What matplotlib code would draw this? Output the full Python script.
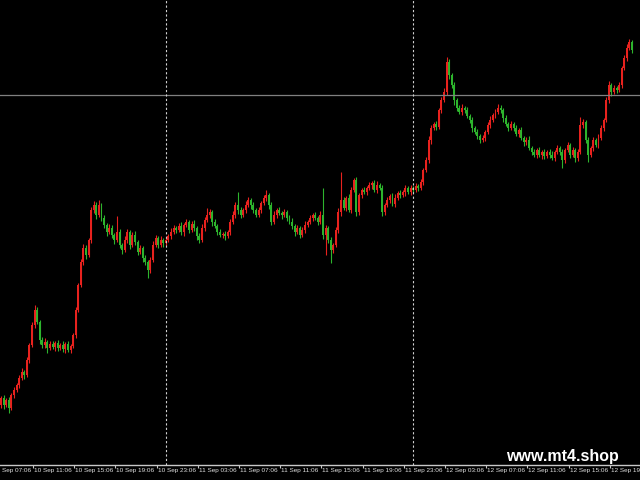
import matplotlib
matplotlib.use('Agg')
import matplotlib.pyplot as plt
import matplotlib.transforms as mtransforms
from matplotlib import font_manager
import numpy as np

# M15 candles, price in points (no price scale shown on the chart)
first_open = 75
closes = [82, 75, 80, 72, 85, 90, 95, 102, 108, 105, 120, 135, 155, 170, 158, 140, 135, 138, 132, 136,
          133, 137, 132, 135, 131, 136, 130, 134, 145, 170, 195, 218, 232, 225, 240, 270, 275, 265, 275, 262,
          255, 248, 252, 245, 240, 248, 235, 230, 240, 248, 235, 245, 238, 228, 232, 222, 218, 210, 220, 235,
          242, 235, 240, 237, 240, 244, 248, 252, 250, 254, 248, 255, 258, 250, 256, 252, 244, 240, 252, 260,
          265, 268, 258, 254, 248, 245, 246, 244, 248, 258, 265, 275, 270, 265, 270, 275, 280, 275, 270, 265,
          270, 277, 282, 285, 275, 258, 265, 270, 267, 265, 268, 262, 258, 254, 248, 252, 245, 250, 255, 258,
          262, 265, 262, 258, 265, 245, 252, 240, 230, 235, 250, 268, 280, 272, 282, 270, 290, 300, 268, 285,
          290, 288, 292, 295, 297, 290, 295, 292, 268, 275, 280, 284, 276, 282, 287, 285, 288, 292, 288, 292,
          290, 294, 292, 298, 310, 320, 340, 352, 356, 353, 370, 380, 388, 418, 405, 395, 380, 372, 368, 372,
          370, 364, 360, 352, 348, 344, 340, 342, 348, 355, 360, 365, 368, 372, 370, 362, 356, 352, 356, 352,
          346, 350, 342, 338, 340, 332, 328, 325, 330, 325, 328, 324, 328, 325, 322, 328, 332, 328, 320, 330,
          335, 325, 330, 322, 328, 355, 358, 340, 325, 332, 340, 335, 342, 352, 360, 380, 395, 388, 392, 390,
          395, 412, 422, 432, 438, 430]
upper_wick = [2, 3, 2, 3, 2, 3, 2, 3, 4, 2, 3, 2, 3, 5, 3, 2, 3, 4, 2, 3,
              3, 2, 3, 2, 4, 2, 3, 2, 2, 3, 2, 3, 4, 3, 2, 3, 4, 3, 5, 2,
              3, 2, 4, 3, 2, 16, 3, 2, 4, 3, 2, 3, 4, 2, 3, 2, 3, 2, 3, 4,
              3, 2, 4, 2, 3, 2, 4, 3, 2, 3, 4, 2, 3, 2, 3, 4, 2, 3, 4, 3,
              7, 3, 2, 3, 2, 3, 2, 3, 2, 3, 4, 3, 13, 3, 2, 4, 3, 2, 3, 2,
              3, 2, 3, 5, 2, 3, 4, 2, 3, 2, 3, 2, 3, 4, 2, 3, 2, 3, 4, 2,
              3, 2, 3, 2, 4, 27, 3, 2, 3, 2, 3, 4, 28, 3, 2, 4, 3, 2, 3, 2,
              2, 3, 2, 3, 2, 3, 4, 2, 3, 2, 3, 2, 3, 4, 2, 3, 2, 3, 2, 3,
              2, 3, 2, 3, 2, 3, 4, 3, 2, 3, 2, 3, 4, 5, 3, 2, 3, 2, 3, 4,
              2, 3, 2, 3, 2, 3, 2, 3, 2, 3, 4, 2, 3, 4, 3, 2, 3, 2, 3, 2,
              3, 2, 3, 2, 3, 4, 2, 3, 2, 3, 2, 3, 2, 3, 4, 2, 3, 2, 3, 2,
              3, 2, 3, 2, 3, 8, 3, 2, 3, 2, 3, 2, 4, 3, 2, 3, 4, 2, 3, 2,
              3, 2, 3, 4, 3, 2]
lower_wick = [3, 4, 2, 5, 2, 3, 2, 3, 2, 4, 2, 3, 2, 3, 2, 4, 3, 3, 5, 2,
              2, 4, 3, 2, 3, 4, 2, 3, 2, 3, 2, 2, 3, 4, 2, 3, 3, 4, 2, 3,
              3, 4, 2, 3, 4, 2, 3, 4, 2, 3, 4, 2, 3, 3, 2, 4, 3, 8, 3, 2,
              2, 3, 2, 4, 3, 2, 3, 2, 3, 2, 3, 4, 2, 3, 2, 3, 4, 3, 2, 3,
              2, 3, 4, 2, 3, 2, 3, 4, 2, 3, 2, 3, 4, 3, 2, 3, 2, 4, 3, 2,
              2, 3, 2, 3, 4, 3, 2, 3, 2, 4, 2, 3, 2, 3, 4, 2, 3, 2, 3, 2,
              2, 3, 2, 3, 2, 4, 20, 3, 13, 3, 2, 3, 4, 2, 3, 2, 3, 2, 4, 3,
              3, 2, 3, 2, 4, 2, 3, 2, 4, 3, 2, 3, 2, 3, 2, 3, 2, 4, 2, 3,
              3, 2, 3, 2, 3, 2, 3, 4, 2, 3, 2, 3, 2, 3, 4, 3, 5, 3, 2, 3,
              3, 2, 3, 4, 2, 3, 3, 2, 3, 2, 3, 2, 3, 2, 3, 4, 2, 3, 2, 3,
              2, 3, 2, 4, 3, 2, 3, 2, 3, 2, 4, 3, 2, 3, 2, 3, 2, 3, 8, 3,
              2, 3, 2, 4, 3, 2, 3, 3, 7, 2, 3, 2, 3, 2, 3, 2, 3, 4, 2, 3,
              2, 3, 2, 3, 2, 3]

start_hour = 8.0          # first bar: 10 Sep 08:00 (hours from 10 Sep 00:00)
bar_hours = 0.25
tick_hours = [7.1, 11.1, 15.1, 19.1, 23.1, 27.1, 31.1, 35.1, 39.1, 43.1, 47.1, 51.1, 55.1, 59.1, 63.1, 67.1]
tick_labels = ['10 Sep 07:06', '10 Sep 11:06', '10 Sep 15:06', '10 Sep 19:06', '10 Sep 23:06',
               '11 Sep 03:06', '11 Sep 07:06', '11 Sep 11:06', '11 Sep 15:06', '11 Sep 19:06',
               '11 Sep 23:06', '12 Sep 03:06', '12 Sep 07:06', '12 Sep 11:06', '12 Sep 15:06',
               '12 Sep 19:06']
day_breaks = [24, 48]
level = 385

closes = np.array(closes, dtype=float)
opens = np.concatenate([[first_open], closes[:-1]])
highs = np.maximum(opens, closes) + np.array(upper_wick)
lows = np.minimum(opens, closes) - np.array(lower_wick)
t = start_hour + bar_hours * np.arange(len(closes))

up_col = '#e8221e'
dn_col = '#2db42d'
colors = [up_col if c > o else dn_col for o, c in zip(opens, closes)]

fig = plt.figure(figsize=(6.4, 4.8), dpi=100, facecolor='black')
ax = fig.add_axes([0, 15 / 480, 1, 465 / 480])
ax.set_facecolor('black')

ax.vlines(t, lows, highs, colors=colors, linewidth=0.8)
heights = np.maximum(np.abs(closes - opens), 1)
ax.bar(t, heights, bottom=np.minimum(opens, closes), width=0.19, color=colors, linewidth=0)

ax.axhline(level, color='#808080', linewidth=0.9)
for d in day_breaks:
    ax.axvline(d, color='#d0d0d0', linewidth=0.8, linestyle=(0, (2, 2)))

for s in ['top', 'left', 'right']:
    ax.spines[s].set_visible(False)
ax.spines['bottom'].set_color('#c8c8c8')
ax.spines['bottom'].set_linewidth(1)
ax.set_yticks([])
ax.set_xticks(tick_hours)
ax.set_xticklabels([])
ax.tick_params(axis='x', direction='out', length=2.5, color='#c8c8c8', width=0.8)

# limits after the ticks, otherwise set_xticks widens the view
ax.set_xlim(7.896, 70.03)
ax.set_ylim(15, 480)

names = {f.name for f in font_manager.fontManager.ttflist}
if 'Liberation Sans Narrow' in names:
    lab_font, lab_size = 'Liberation Sans Narrow', 5.3
else:
    lab_font, lab_size = 'Liberation Sans', 4.6

trans = mtransforms.blended_transform_factory(ax.transData, ax.transAxes)
for h, lab in zip(tick_hours, tick_labels):
    ax.text(h + 0.1, -0.006, lab, transform=trans, ha='left', va='top',
            fontsize=lab_size, family=lab_font, color='#e0e0e0', clip_on=False)

fig.text(562 / 640, 1 - 456 / 480, 'www.mt4.shop', ha='center', va='center',
         fontsize=11.5, fontweight='bold', family='Liberation Sans', color='white')

fig.savefig('out.png', dpi=100, facecolor='black')
